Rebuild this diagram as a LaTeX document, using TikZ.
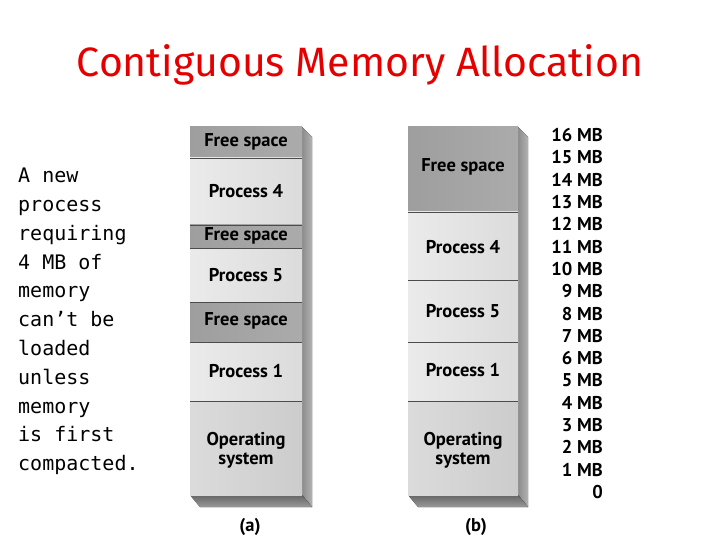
\documentclass[tikz,border=0pt]{standalone}
\usepackage{fontspec}
\setmainfont{PT Sans}
\newfontfamily\titlefont{Fira Sans}
\newfontfamily\monof{DejaVu Sans Mono}
\begin{document}
\begin{tikzpicture}[x=1pt,y=-1pt,
  seg/.style={draw=black!70,line width=0.8pt},
  lbl/.style={font=\bfseries\fontsize{18.5}{19}\selectfont,align=center,text=black},
  mb/.style={font=\bfseries\fontsize{18.5}{19}\selectfont,anchor=east,text=black,inner sep=0pt}]
\useasboundingbox (0,0) rectangle (720,540);
\fill[white] (0,0) rectangle (720,540);
\node[font=\titlefont\fontsize{41}{44}\selectfont,text=red!90!black] (title) at (360,65) {Contiguous Memory Allocation};
\node[font=\monof\fontsize{20}{28.8}\selectfont,align=left,anchor=north west,inner sep=0pt] (txt) at (18,168)
{A new\\process\\requiring\\4 MB of\\memory\\can’t be\\loaded\\unless\\memory\\is first\\compacted.};
\foreach \xl/\xr in {190/302,408/518}{
  \fill[left color=black!45,right color=black!30] (\xr,127) -- (\xr+10,137) -- (\xr+10,507) -- (\xr,495) -- cycle;
  \fill[top color=black!60,bottom color=black!40] (\xl,495) -- (\xr,495) -- (\xr+10,507) -- (\xl+10,507) -- cycle;
}
\tikzset{free/.style={left color=black!38,right color=black!33},
         proc/.style={left color=black!8,right color=black!14},
         os/.style={left color=black!14,right color=black!20}}
% (a)
\fill[free] (190,127) rectangle (302,158);
\fill[proc] (190,158) rectangle (302,225);
\fill[free] (190,225) rectangle (302,248);
\fill[proc] (190,248) rectangle (302,302);
\fill[free] (190,302) rectangle (302,342);
\fill[proc] (190,342) rectangle (302,401);
\fill[os] (190,401) rectangle (302,495);
\foreach \y in {158,225,248,302,342,401} \draw[seg] (190,\y) -- (302,\y);
\node[lbl] (a1) at (246,142) {Free space};
\node[lbl] (a2) at (246,191) {Process 4};
\node[lbl] (a3) at (246,236) {Free space};
\node[lbl] (a4) at (246,275) {Process 5};
\node[lbl] (a5) at (246,321) {Free space};
\node[lbl] (a6) at (246,371) {Process 1};
\node[lbl] (a7) at (246,450) {Operating\\system};
% (b)
\fill[free] (408,127) rectangle (518,212);
\fill[proc] (408,212) rectangle (518,280);
\fill[proc] (408,280) rectangle (518,342);
\fill[proc] (408,342) rectangle (518,401);
\fill[os] (408,401) rectangle (518,495);
\foreach \y in {212,280,342,401} \draw[seg] (408,\y) -- (518,\y);
\node[lbl] (b1) at (463,167) {Free space};
\node[lbl] (b2) at (463,247) {Process 4};
\node[lbl] (b3) at (463,311) {Process 5};
\node[lbl] (b4) at (463,370) {Process 1};
\node[lbl] (b5) at (463,450) {Operating\\system};
\foreach \i in {1,...,16}{
  \node[mb] (m\i) at (603,{492-\i*22.3}) {\i\ MB};
}
\node[mb] (m0) at (603,492) {0};
\node[lbl] (ca) at (250,527) {(a)};
\node[lbl] (cb) at (476,527) {(b)};
\end{tikzpicture}
\end{document}
